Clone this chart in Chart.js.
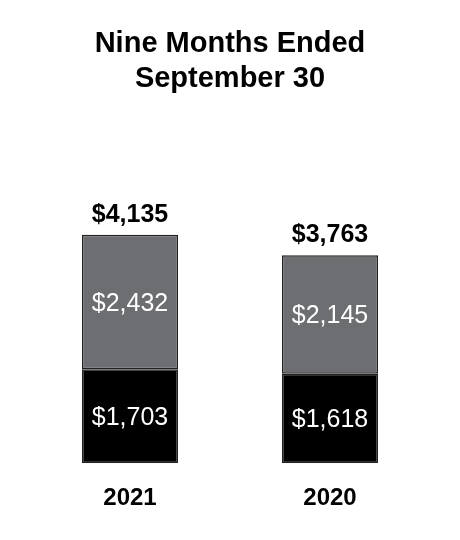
<!DOCTYPE html>
<html>
<head>
<meta charset="utf-8">
<script src="https://cdn.jsdelivr.net/npm/chart.js@4/dist/chart.umd.min.js"></script>
<style>
  html, body { margin: 0; padding: 0; background: #ffffff; }
  #wrap { width: 460px; height: 540px; }
</style>
</head>
<body>
<div id="wrap"><canvas id="c" width="460" height="540"></canvas></div>
<script>
const categories = ['2021', '2020'];
const baseValues = [1703, 1618];
const upperValues = [2432, 2145];
const totalValues = [4135, 3763];
const titleLines = ['Nine Months Ended', 'September 30'];

const FONT = "'Liberation Sans', Arial, Helvetica, sans-serif";

const fmt = v => '$' + v.toLocaleString('en-US');

const labelPlugin = {
  id: 'barLabels',
  afterDatasetsDraw(chart) {
    const ctx = chart.ctx;
    ctx.save();
    ctx.textAlign = 'center';
    ctx.textBaseline = 'middle';
    chart.data.datasets.forEach((ds, di) => {
      const meta = chart.getDatasetMeta(di);
      meta.data.forEach((bar, i) => {
        const top = Math.min(bar.y, bar.base);
        const bottom = Math.max(bar.y, bar.base);
        ctx.fillStyle = '#ffffff';
        ctx.font = '25px ' + FONT;
        ctx.fillText(fmt(ds.data[i]), bar.x, (top + bottom) / 2 + 2);
      });
    });
    const topMeta = chart.getDatasetMeta(chart.data.datasets.length - 1);
    topMeta.data.forEach((bar, i) => {
      ctx.fillStyle = '#000000';
      ctx.font = 'bold 25px ' + FONT;
      ctx.fillText(fmt(totalValues[i]), bar.x, bar.y - 20);
    });
    ctx.restore();
  }
};

new Chart(document.getElementById('c'), {
  type: 'bar',
  data: {
    labels: categories,
    datasets: [
      {
        data: baseValues,
        backgroundColor: '#000000',
        borderColor: '#222222',
        borderWidth: 1.5,
        borderSkipped: false
      },
      {
        data: upperValues,
        backgroundColor: '#6d6e71',
        borderColor: '#222222',
        borderWidth: 1.5,
        borderSkipped: false
      }
    ]
  },
  options: {
    responsive: false,
    animation: false,
    devicePixelRatio: 1,
    layout: { padding: { left: 30, right: 30, top: 0, bottom: 6 } },
    datasets: { bar: { barPercentage: 0.48, categoryPercentage: 1.0 } },
    plugins: {
      legend: { display: false },
      tooltip: { enabled: false },
      title: {
        display: true,
        text: titleLines,
        color: '#000000',
        font: { family: FONT, size: 29, weight: 'bold', lineHeight: 1.207 },
        padding: { top: 26, bottom: 91 }
      }
    },
    scales: {
      x: {
        stacked: true,
        grid: { display: false, drawTicks: false },
        border: { display: false },
        ticks: {
          color: '#000000',
          padding: 21,
          font: { family: FONT, size: 24, weight: 'bold', lineHeight: 1.2 }
        }
      },
      y: {
        stacked: true,
        display: false,
        min: 0,
        max: 5000
      }
    }
  },
  plugins: [labelPlugin]
});
</script>
</body>
</html>
